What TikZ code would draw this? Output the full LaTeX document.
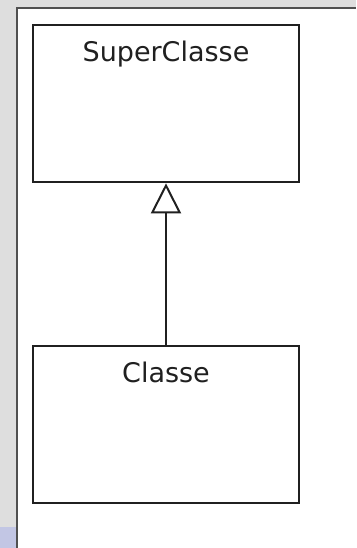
\documentclass[tikz,border=0pt]{standalone}
\usepackage{fontspec}
\setmainfont{DejaVu Sans}
\usetikzlibrary{arrows.meta}
\definecolor{bggray}{HTML}{DEDEDE}
\definecolor{edgegray}{HTML}{505050}
\definecolor{lav}{HTML}{C2C6E4}
\definecolor{ink}{HTML}{202020}
\tikzset{
  classbox/.style={draw=ink, line width=2.6pt, fill=white, minimum width=266pt, minimum height=157pt, inner sep=0pt},
  classname/.style={font=\fontsize{27}{30}\selectfont, text=ink, anchor=base, inner sep=0pt},
  inherit/.style={draw=ink, line width=2pt, -{Triangle[open, length=30pt, width=30pt, fill=white]}}
}
\begin{document}
\begin{tikzpicture}[x=1pt,y=-1pt]
\useasboundingbox (0,0) rectangle (356,548);
\fill[bggray] (0,0) rectangle (356,548);
\fill[lav] (0,527) rectangle (17,548);
\fill[white] (17,8) rectangle (356,548);
\draw[edgegray, line width=1.4pt] (17,548) -- (17,8) -- (356,8);
\node[classbox] (super) at (166,103.5) {};
\node[classbox] (cls) at (166,424.5) {};
\node[classname] (supername) at (166,62) {SuperClasse};
\node[classname] (clsname) at (166,382) {Classe};
\draw[inherit] (cls.north) -- (super.south);
\end{tikzpicture}
\end{document}
